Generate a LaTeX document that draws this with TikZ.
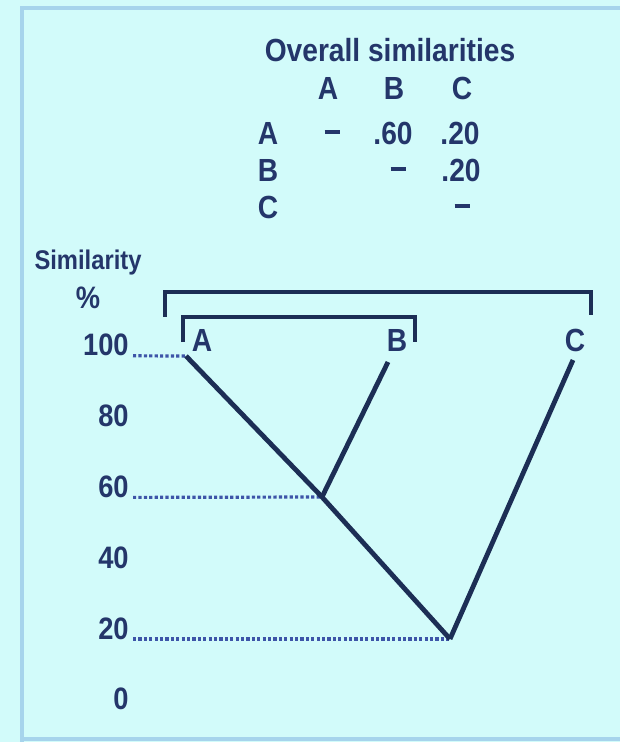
\documentclass[tikz,border=0pt]{standalone}
\usepackage{fontspec}
\newfontfamily\figfont{Liberation Sans}[FakeStretch=0.88]
\usetikzlibrary{positioning}
\definecolor{scanbg}{HTML}{D2FBFA}
\definecolor{inkblue}{HTML}{24366A}
\definecolor{linkblue}{HTML}{1C2E55}
\definecolor{dotblue}{HTML}{3D55A8}
\definecolor{framelight}{HTML}{A6D4EC}
\newcommand{\nodash}{\vphantom{A}\rule[0.3em]{7.5pt}{2.4pt}}
\tikzset{
  simtext/.style={
    font=\figfont\bfseries\fontsize{16}{19}\selectfont,
    text=inkblue,
    inner sep=0pt
  },
  axislabel/.style={simtext,font=\figfont\bfseries\fontsize{15.5}{18}\selectfont},
  branch/.style={line width=2.4pt,draw=linkblue,line join=round},
  groupline/.style={line width=2pt,draw=linkblue,line join=miter},
  guide/.style={line width=1.6pt,draw=dotblue,dash pattern=on 1.6pt off 1.1pt,shorten <=2pt}
}

\begin{document}
\begin{tikzpicture}[x=0.5pt,y=-0.5pt]
  \useasboundingbox (0,0) rectangle (620,742);
  \fill[scanbg] (0,0) rectangle (620,742);
  \draw[framelight,line width=2.4pt] (620,8) -- (22,8) -- (22,742);
  \draw[framelight,line width=1.6pt] (22,739) -- (620,739);

  % similarity table
  \node[simtext] (title) at (390,50) {Overall similarities};
  \node[simtext] (hA) at (328,88) {A};
  \node[simtext] (hB) at (394,88) {B};
  \node[simtext] (hC) at (462,88) {C};
  \node[simtext] (rA) at (268,133) {A};
  \node[simtext] (rB) at (268,170) {B};
  \node[simtext] (rC) at (268,207) {C};
  \node[simtext] (eAA) at (332,133) {\nodash};
  \node[simtext] (eAB) at (393,133) {.60};
  \node[simtext] (eAC) at (460,133) {.20};
  \node[simtext] (eBB) at (398,170) {\nodash};
  \node[simtext] (eBC) at (461,170) {.20};
  \node[simtext] (eCC) at (462,207) {\nodash};

  % axis
  \node[axislabel,font=\figfont\bfseries\fontsize{13.5}{16}\selectfont] (simhead) at (88,263) {Similarity};
  \node[axislabel] (pct) at (88,298) {\%};
  \foreach \s in {0,20,...,100}
    \node[axislabel,anchor=base east] (t\s) at (129,{639-(\s-20)*3.54}) {\s};

  % leaves and clusters
  \node[simtext] (leafA) at (202,340) {A};
  \node[simtext] (leafB) at (397,340) {B};
  \node[simtext] (leafC) at (575,340) {C};
  \draw[groupline] (183,342) -- (183,317) -- (415,317) -- (415,342);
  \draw[groupline] (165,317) -- (165,292) -- (591,292) -- (591,315);

  \coordinate (topA) at (186,356);
  \coordinate (topB) at (388,362);
  \coordinate (topC) at (573,360);
  \coordinate (jAB) at (322,497);
  \coordinate (jABC) at (450,639);
  \draw[guide] (t100.base east) -- (topA);
  \draw[guide] (t60.base east) -- (jAB);
  \draw[guide] (t20.base east) -- (jABC);
  \draw[branch] (topA) -- (jAB) -- (jABC);
  \draw[branch] (topB) -- (jAB);
  \draw[branch] (topC) -- (jABC);
\end{tikzpicture}
\end{document}
